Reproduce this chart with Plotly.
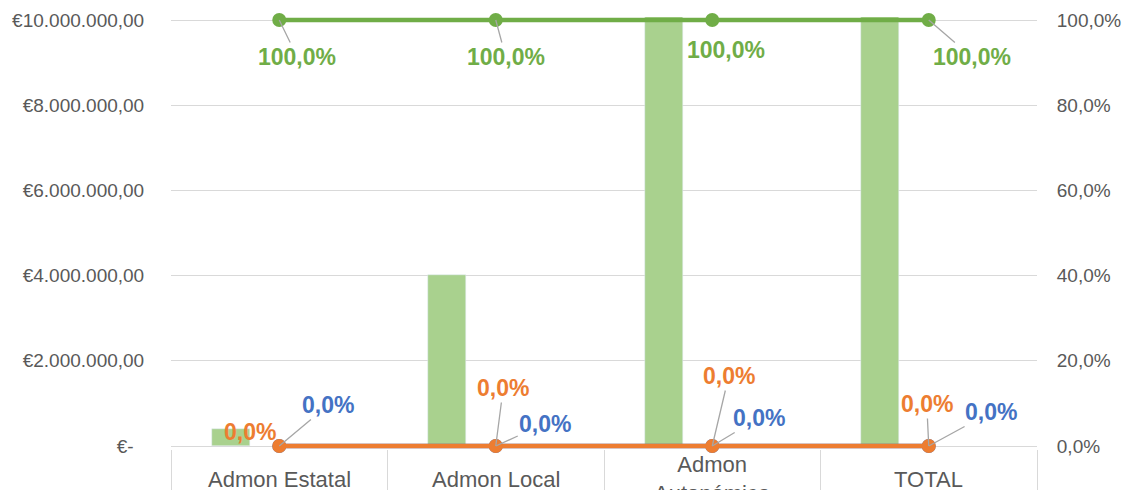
import plotly.graph_objects as go

categories = ["Admon Estatal", "Admon Local", "Admon<br>Autonómica", "TOTAL"]
bar_values = [400000, 4010000, 12000000, 16410000]
green_pct = [1.0, 1.0, 1.0, 1.0]
orange_pct = [0.0, 0.0, 0.0, 0.0]
blue_pct = [0.0, 0.0, 0.0, 0.0]
left_ticks = [0, 2000000, 4000000, 6000000, 8000000, 10000000]
right_ticks = [0, 0.2, 0.4, 0.6, 0.8, 1.0]

BAR = "#A9D18E"
GREEN = "#70AD47"
ORANGE = "#ED7D31"
BLUE = "#4472C4"
GRID = "#D9D9D9"
TXT = "#595959"
FONT = "Liberation Sans"

# small padding (fraction of axis span) so the 0% / 100% lines are not clipped
PAD = 3 / 426
LMAX = 10000000


def eur(v):
    if v == 0:
        return "€-\u00a0\u00a0"
    s = f"{v:,.2f}".replace(",", "X").replace(".", ",").replace("X", ".")
    return "€" + s


fig = go.Figure()
fig.add_trace(go.Bar(x=categories, y=bar_values, marker_color=BAR, offset=-0.311, width=0.174,
                     yaxis="y", showlegend=False))
fig.add_trace(go.Scatter(x=categories, y=blue_pct, yaxis="y2", mode="lines+markers",
                         line=dict(color=BLUE, width=4.5), marker=dict(size=14, color=BLUE),
                         cliponaxis=False, showlegend=False))
fig.add_trace(go.Scatter(x=categories, y=orange_pct, yaxis="y2", mode="lines+markers",
                         line=dict(color=ORANGE, width=4.5), marker=dict(size=14, color=ORANGE),
                         cliponaxis=False, showlegend=False))
fig.add_trace(go.Scatter(x=categories, y=green_pct, yaxis="y2", mode="lines+markers",
                         line=dict(color=GREEN, width=4.5), marker=dict(size=14, color=GREEN),
                         cliponaxis=False, showlegend=False))

annots = []
lab_font = dict(family=FONT, size=23, weight="bold")

# label offsets (px) per series: (ax, ay, leader)
green_off = [(18, 37, True), (10, 37, True), (14, 29.5, False), (43, 37, True)]
orange_off = [(-29.5, -14.5, False), (7.5, -58, True), (16.5, -70, True), (-2, -42, True)]
blue_off = [(49, -41, True), (49.5, -22.5, True), (46.5, -28, True), (62.5, -34, True)]


def add_labels(vals, offs, color):
    for c, v, (dx, dy, lead) in zip(categories, vals, offs):
        txt = f"{v*100:.1f}%".replace(".", ",")
        if lead:
            annots.append(dict(x=c, y=v, xref="x", yref="y2", text=txt, showarrow=True,
                               arrowhead=0, arrowwidth=1.3, arrowcolor="#A6A6A6",
                               ax=dx, ay=dy, standoff=0, font=dict(lab_font, color=color)))
        else:
            annots.append(dict(x=c, y=v, xref="x", yref="y2", text=txt, showarrow=False,
                               xshift=dx, yshift=-dy, font=dict(lab_font, color=color)))


add_labels(green_pct, green_off, GREEN)
add_labels(blue_pct, blue_off, BLUE)
add_labels(orange_pct, orange_off, ORANGE)

for c in categories:
    annots.append(dict(x=c, y=0, xref="x", yref="y", text=c, showarrow=False,
                       yanchor="middle", yshift=-33,
                       font=dict(family=FONT, size=22, color=TXT)))

fig.update_layout(
    width=1127, height=482,
    margin=dict(l=163, r=98, t=9, b=41, autoexpand=False),
    paper_bgcolor="white", plot_bgcolor="white",
    separators=",.",
    bargap=0,
    annotations=annots,
    xaxis=dict(type="category", range=[-0.5, len(categories) - 0.5], showticklabels=False,
               ticks="outside", tickson="boundaries", ticklen=50, tickcolor=GRID, tickwidth=1,
               showline=False, showgrid=False, zeroline=False, automargin=False),
    yaxis=dict(range=[-PAD * LMAX, (1 + PAD) * LMAX], tickvals=left_ticks,
               ticktext=[eur(v) for v in left_ticks],
               showgrid=True, gridcolor=GRID, gridwidth=1,
               zeroline=True, zerolinecolor=GRID, zerolinewidth=1,
               tickfont=dict(family=FONT, size=19, color=TXT), ticks="outside",
               ticklen=22, tickcolor="rgba(0,0,0,0)", automargin=False),
    yaxis2=dict(range=[-PAD, 1 + PAD], overlaying="y", side="right", tickvals=right_ticks,
                tickformat=".1%", showgrid=False, zeroline=False,
                tickfont=dict(family=FONT, size=19, color=TXT), ticks="outside",
                ticklen=15, tickcolor="rgba(0,0,0,0)", automargin=False),
)

fig.write_html("out.html")
